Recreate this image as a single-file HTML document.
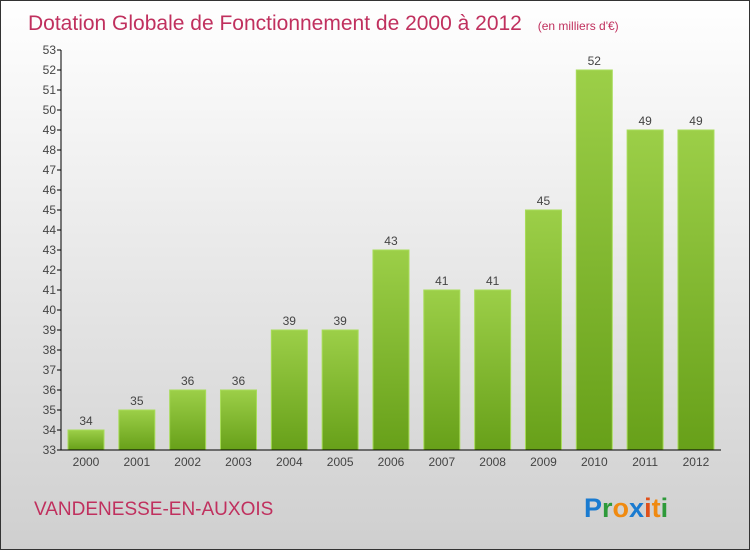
<!DOCTYPE html>
<html><head><meta charset="utf-8"><style>
body{margin:0;}
svg{display:block;font-family:"Liberation Sans",sans-serif;}
</style></head><body>
<svg id="chart" width="750" height="550" xmlns="http://www.w3.org/2000/svg">
<defs>
<linearGradient id="bg" x1="0" y1="0" x2="0" y2="1"><stop offset="0" stop-color="#ffffff"/><stop offset="1" stop-color="#cfcfcf"/></linearGradient>
<linearGradient id="bar" x1="0" y1="0" x2="0" y2="1"><stop offset="0" stop-color="#9ccf48"/><stop offset="1" stop-color="#67a019"/></linearGradient>
</defs>
<rect x="0.5" y="0.5" width="749" height="549" fill="url(#bg)" stroke="#333"/>
<text x="28" y="30" font-size="21" fill="#c0305e">Dotation Globale de Fonctionnement de 2000 à 2012 <tspan font-size="12" dx="10">(en milliers d'€)</tspan></text>
<g id="plot"></g>
<text x="34" y="515" font-size="19" fill="#c0305e">VANDENESSE-EN-AUXOIS</text>
<text x="584" y="517" font-size="27" font-weight="bold"><tspan fill="#1a7bd0">P</tspan><tspan fill="#2e9a3a">r</tspan><tspan fill="#f08a10">o</tspan><tspan fill="#1a7bd0">x</tspan><tspan fill="#e0501a">i</tspan><tspan fill="#f08a10">t</tspan><tspan fill="#2e9a3a">i</tspan></text>
</svg>
<script>
const years=["2000","2001","2002","2003","2004","2005","2006","2007","2008","2009","2010","2011","2012"];
const values=[34,35,36,36,39,39,43,41,41,45,52,49,49];
const yTicks=[33,34,35,36,37,38,39,40,41,42,43,44,45,46,47,48,49,50,51,52,53];
const NS="http://www.w3.org/2000/svg";
const g=document.getElementById('plot');
const x0=61,x1=721,yMin=33,yMax=53,yTop=50,yBot=450;
const y=v=>yBot-(v-yMin)/(yMax-yMin)*(yBot-yTop);
const step=50.83;
const xc=i=>x0+25+step*i;
function el(t,a){const e=document.createElementNS(NS,t);for(const k in a)e.setAttribute(k,a[k]);g.appendChild(e);return e;}
years.forEach((yr,i)=>{
 const b=el('rect',{x:xc(i)-18,y:y(values[i]),width:36,height:yBot-y(values[i]),fill:'url(#bar)',stroke:'#a8dc5a','stroke-width':1});
 
 
 const t=el('text',{x:xc(i),y:y(values[i])-5,'text-anchor':'middle','font-size':12,fill:'#444'});t.textContent=values[i];
 
 
 const xl=el('text',{x:xc(i),y:466,'text-anchor':'middle','font-size':12,fill:'#444'});xl.textContent=yr;
 
 
});
yTicks.forEach(v=>{
 const tk=el('line',{x1:x0-4,x2:x0,y1:y(v),y2:y(v),stroke:'#000'});
 
 
 const t=el('text',{x:x0-5,y:y(v)+4,'text-anchor':'end','font-size':12,fill:'#444'});t.textContent=v;
 
 
});
const ya=el('line',{x1:x0,x2:x0,y1:yTop,y2:yBot,stroke:'#000'});


const xa=el('line',{x1:x0,x2:x1,y1:yBot,y2:yBot,stroke:'#000'});


</script>
</body></html>
